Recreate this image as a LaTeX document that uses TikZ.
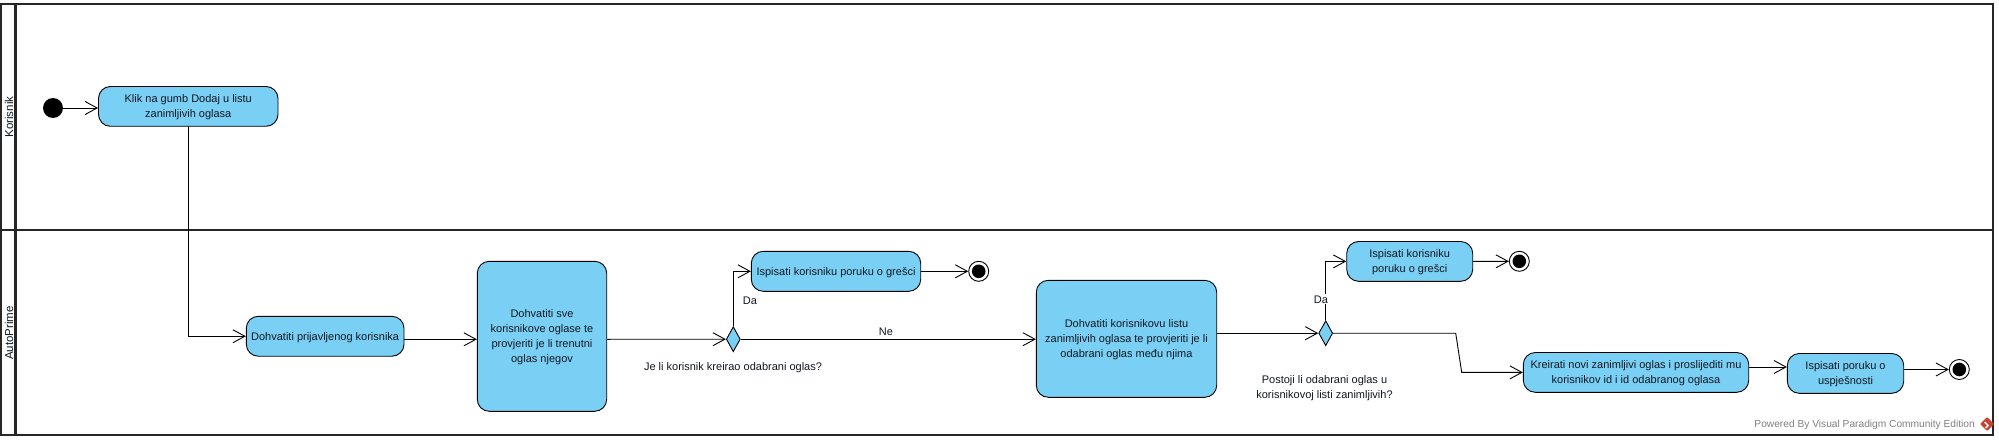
\documentclass[tikz,border=0pt]{standalone}
\usepackage{fontspec}
\setmainfont{Liberation Sans}
\usetikzlibrary{arrows.meta,shapes.geometric}
\definecolor{act}{HTML}{7ACFF5}
\definecolor{ink}{HTML}{101820}
\definecolor{logored}{HTML}{CC4030}
\tikzset{
  lane/.style={line width=2.2pt,draw=black!85},
  flow/.style={line width=0.9pt,-{Straight Barb[length=12pt,width=13pt,line width=0.9pt]}},
  actbox/.style={draw=black,line width=0.9pt,fill=act,rounded corners=12pt,inner sep=0pt},
  acttxt/.style={inner sep=0pt,align=center,font=\fontsize{11}{15}\selectfont,text=ink},
  dec/.style={draw=black,line width=0.9pt,fill=act,diamond,inner sep=0pt,minimum width=14pt,minimum height=25pt,aspect=0.5},
  startn/.style={circle,fill=black,minimum size=20pt,inner sep=0pt},
  endo/.style={circle,draw=black,fill=white,line width=0.9pt,minimum size=20pt,inner sep=0pt},
  lbl/.style={inner sep=0pt,align=center,font=\fontsize{11}{15.5}\selectfont,text=ink},
  swim/.style={inner sep=0pt,rotate=90,font=\fontsize{11.5}{14}\selectfont,text=ink}
}
\newcommand{\actbx}[6]{\node[actbox,minimum width=#4pt-#2pt,minimum height=#5pt-#3pt] (#1) at ({(#2+#4)/2},{(#3+#5)/2}) {};
  \node[acttxt] (#1t) at ([yshift=-1.2pt]#1.center) {#6};}
\newcommand{\finalnd}[3]{\node[endo] (#1) at (#2,#3) {}; \fill[black] (#1.center) circle (6.8pt);}
\begin{document}
\begin{tikzpicture}[x=1pt,y=-1pt]
\useasboundingbox (0,0) rectangle (1999,441);
\fill[white] (0,0) rectangle (1999,441);
% lanes
\draw[lane] (1,4) rectangle (1993,435);
\draw[lane] (15.5,4) -- (15.5,435);
\draw[lane] (1,230) -- (1993,230);
\node[swim] (lk) at (9,117) {Korisnik};
\node[swim] (la) at (9,333) {AutoPrime};
% nodes
\node[startn] (s) at (53,108) {};
\actbx{klik}{98.5}{86.5}{278}{126.3}{Klik na gumb Dodaj u listu\\zanimljivih oglasa}
\actbx{prij}{246.3}{316.3}{404}{356.2}{Dohvatiti prijavljenog korisnika}
\actbx{sve}{477.3}{261.3}{606.7}{411.3}{Dohvatiti sve\\korisnikove oglase te\\provjeriti je li trenutni\\oglas njegov}
\node[dec] (d1) at (733.3,339.2) {};
\actbx{gr1}{751.3}{251.3}{920.7}{291.3}{Ispisati korisniku poruku o grešci}
\finalnd{e1}{978.7}{271.3}
\actbx{lista}{1036.3}{280.3}{1216.7}{397.3}{Dohvatiti korisnikovu listu\\zanimljivih oglasa te provjeriti je li\\odabrani oglas među njima}
\node[dec] (d2) at (1325.7,333.2) {};
\actbx{gr2}{1346.7}{241.5}{1472.7}{281.3}{Ispisati korisniku\\poruku o grešci}
\finalnd{e2}{1519.3}{261.3}
\actbx{krei}{1523.3}{352.5}{1748.7}{392.3}{Kreirati novi zanimljivi oglas i proslijediti mu\\korisnikov id i id odabranog oglasa}
\actbx{usp}{1787.3}{353.5}{1903.7}{393.3}{Ispisati poruku o\\uspješnosti}
\finalnd{e3}{1959.3}{369.5}
% connectors
\coordinate (kd) at (188.5,126.3);
\coordinate (pout) at (404,339.3);
\coordinate (ke) at (1455.7,333.2);
\coordinate (kf) at (1461.7,372.4);
\coordinate (u1) at (1748.7,367);
\coordinate (u2) at (1903.7,369.5);
\draw[flow] (s.center) -- (s.center -| klik.west);
\draw[flow] (kd) |- (prij.west);
\draw[flow] (pout) -- (pout -| sve.west);
\draw[flow] (pout -| sve.east) -- (d1.west);
\draw[flow] (d1.north) |- (gr1.west);
\draw[flow] (gr1.east) -- (e1.west);
\draw[flow] (d1.east) -- (d1.east -| lista.west);
\draw[flow] (d2.west -| lista.east) -- (d2.west);
\draw[flow] (d2.north) |- (gr2.west);
\draw[flow] (gr2.east) -- (e2.west);
\draw[flow] (d2.east) -- (ke) -- (kf) -- (krei.west);
\draw[flow] (u1) -- (u1 -| usp.west);
\draw[flow] (u2) -- (e3.west);
% labels
\node[lbl] (l1) at (750,300.7) {Da};
\node[lbl] (l2) at (886,331.7) {Ne};
\node[lbl] (l3) at (733,367.5) {Je li korisnik kreirao odabrani oglas?};
\node[lbl,fill=white,inner ysep=1pt] (l4) at (1321,299.3) {Da};
\node[lbl] (l5) at (1324.5,388) {Postoji li odabrani oglas u\\korisnikovoj listi zanimljivih?};
\node[inner sep=0pt,anchor=east,font=\fontsize{10.2}{12}\selectfont,text=black!50] (pw) at (1975,424.5) {Powered By Visual Paradigm Community Edition};
\fill[logored,rounded corners=1pt] (1987,417) -- (1994,424) -- (1987,431) -- (1980,424) -- cycle;
\draw[white,line width=1.4pt] (1984.5,422) -- (1988,425.5) -- (1985.5,428);
\end{tikzpicture}
\end{document}
